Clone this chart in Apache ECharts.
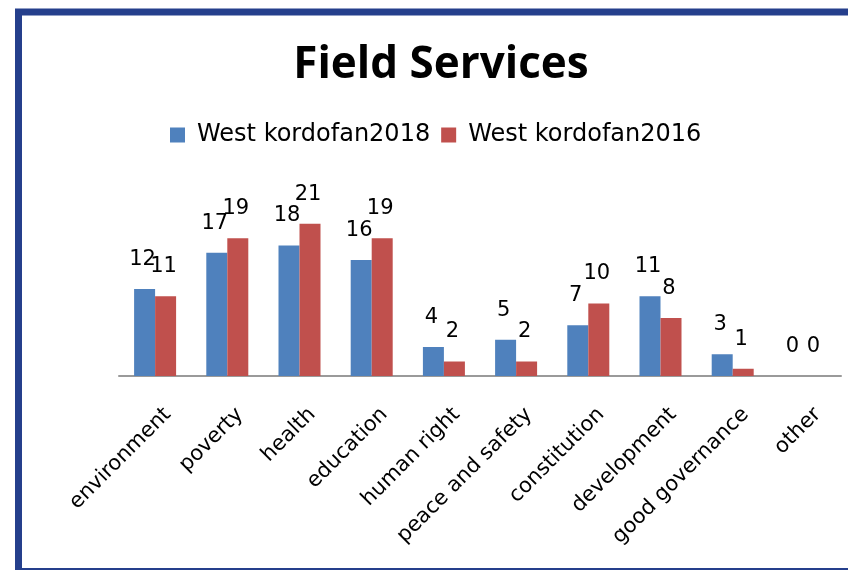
<!DOCTYPE html>
<html>
<head>
<meta charset="utf-8">
<script src="https://cdn.jsdelivr.net/npm/echarts@6/dist/echarts.min.js"></script>
<style>
  html, body { margin: 0; padding: 0; background: #fff; }
  .box { width: 848px; height: 570px; }
</style>
</head>
<body>
<div class="box"></div>
<script>
const categories = ['environment', 'poverty', 'health', 'education', 'human right',
    'peace and safety', 'constitution', 'development', 'good governance', 'other'];
const kordofan2018 = [12, 17, 18, 16, 4, 5, 7, 11, 3, 0];
const kordofan2016 = [11, 19, 21, 19, 2, 2, 10, 8, 1, 0];
const seriesNames = ['West kordofan2018', 'West kordofan2016'];

const chartDom = document.getElementsByClassName('box')[0];
const myChart = echarts.init(chartDom);
let option;

const labelStyle = {
    show: true,
    position: 'top',
    distance: 19,
    offset: [-2, 0],
    color: '#000',
    fontFamily: 'DejaVu Sans',
    fontSize: 21
};

option = {
    backgroundColor: '#fff',
    animation: false,
    title: {
        text: 'Field Services',
        left: 436,
        top: 38,
        textAlign: 'center',
        textStyle: {
            fontFamily: 'Open Sans',
            fontWeight: 'bold',
            fontSize: 44,
            color: '#000'
        }
    },
    legend: {
        left: 165,
        top: 118,
        itemWidth: 15,
        itemHeight: 15,
        itemGap: 11,
        icon: 'rect',
        textStyle: {
            fontFamily: 'DejaVu Sans',
            fontSize: 24,
            color: '#000',
            padding: [0, 0, 0, 7]
        },
        data: seriesNames
    },
    grid: {
        left: 119,
        right: 7,
        top: 202,
        bottom: 194,
        containLabel: false
    },
    xAxis: {
        type: 'category',
        data: categories,
        axisLine: { lineStyle: { color: '#9a9a9a', width: 2 } },
        axisTick: { show: false },
        axisLabel: {
            interval: 0,
            rotate: 45,
            margin: 48,
            // push the rotated names a little up-right along their own line
            padding: [0, -18, 0, 0],
            color: '#000',
            fontFamily: 'DejaVu Sans',
            fontSize: 21
        }
    },
    yAxis: {
        type: 'value',
        min: 0,
        max: 24,
        show: false
    },
    series: [
        {
            name: seriesNames[0],
            type: 'bar',
            data: kordofan2018,
            barWidth: 21,
            barGap: '0%',
            itemStyle: { color: '#4f81bd' },
            label: labelStyle
        },
        {
            name: seriesNames[1],
            type: 'bar',
            data: kordofan2016,
            barWidth: 21,
            itemStyle: { color: '#c0504d' },
            label: labelStyle
        }
    ],
    // the blue frame round the chart
    graphic: [
        {
            type: 'rect',
            shape: { x: 18.5, y: 12, width: 900, height: 559.5 },
            style: { fill: 'none', stroke: '#253f8c', lineWidth: 7 },
            silent: true
        }
    ]
};

myChart.setOption(option);
</script>
</body>
</html>
